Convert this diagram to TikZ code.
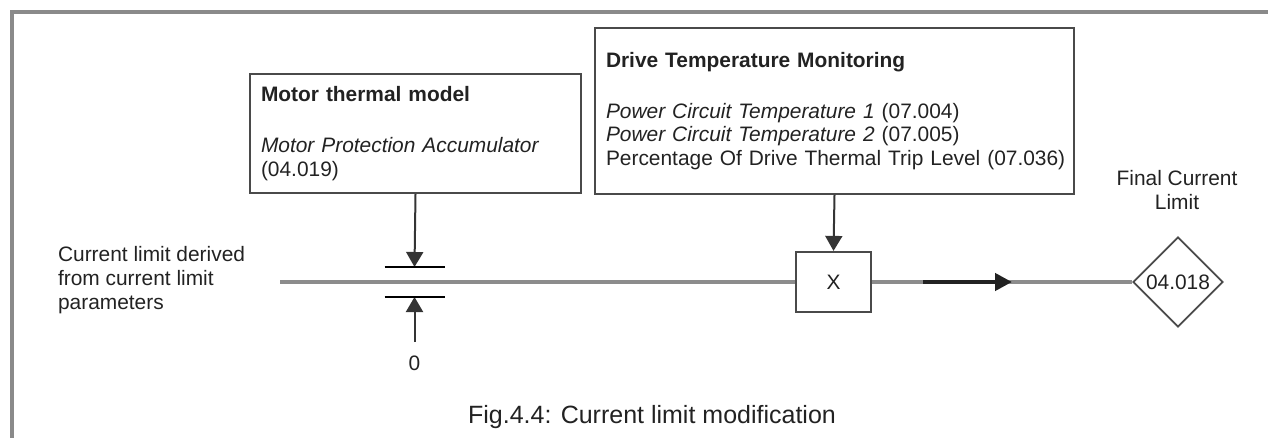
\documentclass[tikz,border=0pt]{standalone}
\usepackage{fontspec}
\setmainfont{Liberation Sans}
\usepackage{tikz}
\usetikzlibrary{shapes.geometric,arrows.meta,positioning,calc}
\definecolor{cdFrame}{HTML}{8A8A8A}
\definecolor{cdWire}{HTML}{8C8C8C}
\definecolor{cdEdge}{HTML}{4A4A4A}
\definecolor{cdInk}{HTML}{222222}
\tikzset{
  infobox/.style={draw=cdEdge,line width=1pt,align=left,anchor=north west,
    inner xsep=5.5pt,inner ysep=0pt,text=cdInk},
  sig/.style={cdWire,line width=1.8pt},
  feed/.style={cdEdge!70!black,line width=1pt,-{Triangle[length=7.5pt,width=8.5pt]}},
  boost/.style={cdInk,line width=2.2pt,-{Triangle[length=8.5pt,width=8.5pt]}},
  clampbar/.style={black,line width=1pt}
}

\begin{document}
\begin{tikzpicture}[x=0.5pt,y=-0.5pt,font=\fontsize{10.45}{11.8}\selectfont,text=cdInk]
\useasboundingbox (0,0) rectangle (1268,438);
\draw[cdFrame,line width=2pt] (12,440) -- (12,12) -- (1270,12);

\node[infobox,text width=154.5pt,minimum height=59.5pt] (motor) at (249,73)
  {\textbf{Motor thermal model}\\[13.5pt]\textit{Motor Protection Accumulator}\\(04.019)};
\node[infobox,text width=228.5pt,minimum height=83pt] (drive) at (594,27)
  {\textbf{Drive Temperature Monitoring}\\[13.5pt]\textit{Power Circuit Temperature 1} (07.004)\\
   \textit{Power Circuit Temperature 2} (07.005)\\\mbox{Percentage Of Drive Thermal Trip Level (07.036)}};

\node[align=left,anchor=west] (inlbl) at (51,280) {Current limit derived\\from current limit\\parameters};
\node[draw=cdEdge,line width=1.1pt,minimum width=37.5pt,minimum height=30pt,inner sep=0pt] (mult) at (833.5,282) {X};
\node[diamond,aspect=1,draw=cdEdge,line width=0.9pt,minimum width=45pt,minimum height=45pt,inner sep=0pt] (out) at (1178,282) {04.018};
\node[align=center] (outlbl) at (1177,190) {Final Current\\Limit};
\node (zero) at (414.5,363) {0};
\node[font=\fontsize{12.5}{14}\selectfont] (cap) at (652,417) {Fig.4.4: Current limit modification};

\coordinate (src) at (280,282);
\coordinate (barup) at (414.5,267);
\coordinate (bardn) at (414.5,297);
\coordinate (zin) at (414.5,342);
\coordinate (a1) at (923,282);
\coordinate (a2) at (1012,282);

\draw[sig] (src) -- (mult.west);
\draw[sig] (mult.east) -- (out.west);
\draw[boost] (a1) -- (a2);
\draw[feed] (motor.south) -- (barup);
\draw[feed] (zin) -- (bardn);
\draw[feed] (drive.south) -- (mult.north);
\foreach \b in {barup,bardn}
  \draw[clampbar] ($(\b)+(-30,0)$) -- ($(\b)+(30,0)$);
\end{tikzpicture}
\end{document}
